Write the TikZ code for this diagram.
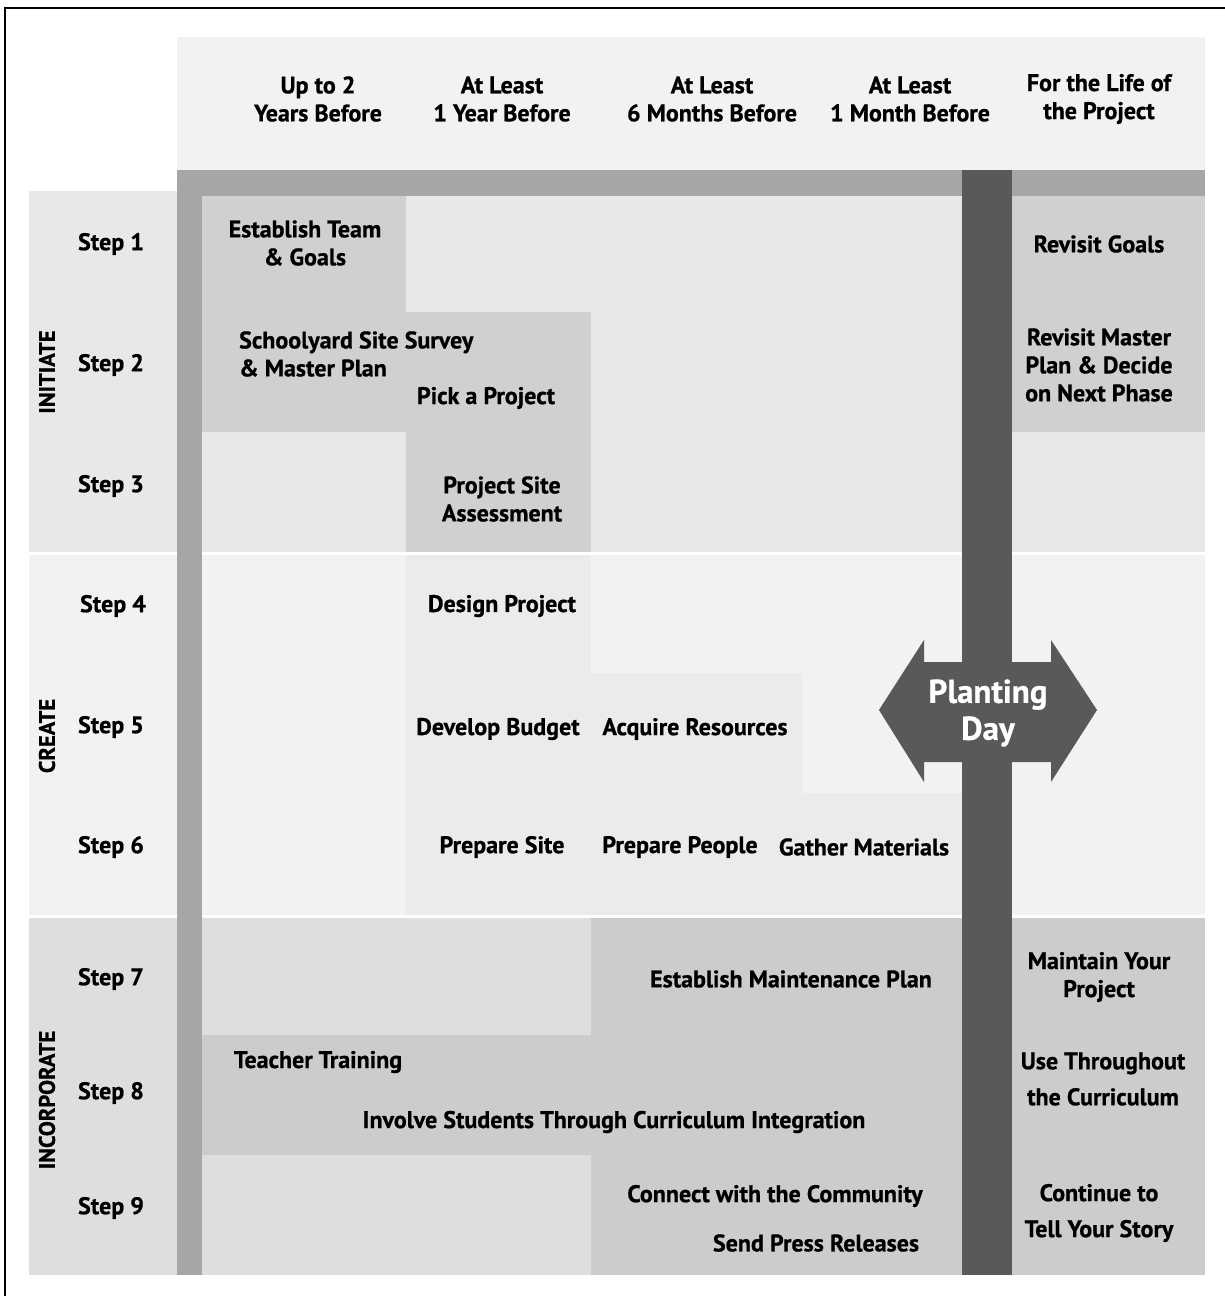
\documentclass[tikz,border=0pt]{standalone}
\usepackage{fontspec}
\setmainfont{PT Sans}[BoldFeatures={FakeBold=0.7}]
\definecolor{hdr}{HTML}{F2F2F2}
\definecolor{iniBg}{HTML}{E8E8E8}
\definecolor{iniBox}{HTML}{D0D0D0}
\definecolor{creBg}{HTML}{F2F2F2}
\definecolor{creBox}{HTML}{EBEBEB}
\definecolor{incBg}{HTML}{DEDEDE}
\definecolor{incBox}{HTML}{CCCCCC}
\definecolor{barGray}{HTML}{A6A6A6}
\definecolor{barDark}{HTML}{595959}
\tikzset{
  lbl/.style={font=\fontsize{24}{28}\selectfont\bfseries, align=center, inner sep=0pt, text=black},
  lbll/.style={lbl, align=left},
  vlbl/.style={font=\fontsize{22.5}{26}\selectfont\bfseries, rotate=90, inner sep=0pt},
  steplbl/.style={lbl},
  widelbl/.style={lbl, font=\fontsize{24}{36}\selectfont\bfseries},
}
\begin{document}
\begin{tikzpicture}[x=1pt,y=-1pt]
\useasboundingbox (0,0) rectangle (1225,1296);
\begin{scope}
\clip (0,0) rectangle (1225,1296);
\fill[white] (0,0) rectangle (1225,1296);
\draw[line width=2pt] (5,1300) -- (5,8) -- (1240,8);
% header
\fill[hdr] (177,37) rectangle (1205,170);
% sections
\fill[iniBg] (29,191) rectangle (1205,552);
\fill[creBg] (29,555) rectangle (1205,915);
\fill[incBg] (29,918) rectangle (1205,1275);
% initiate boxes
\fill[iniBox] (202,196) rectangle (406,312);
\fill[iniBox] (202,312) rectangle (591,432);
\fill[iniBox] (406,432) rectangle (591,552);
\fill[iniBox] (1012,196) rectangle (1205,432);
% create boxes
\fill[creBox] (406,555) rectangle (591,915);
\fill[creBox] (591,673) rectangle (802,915);
\fill[creBox] (802,793) rectangle (962,915);
% incorporate boxes
\fill[incBox] (591,918) rectangle (962,1035);
\fill[incBox] (202,1035) rectangle (962,1155);
\fill[incBox] (591,1155) rectangle (962,1275);
\fill[incBox] (1012,918) rectangle (1205,1275);
% bars
\fill[barGray] (177,170) rectangle (1205,196);
\fill[barGray] (177,170) rectangle (202,1275);
\fill[barDark] (962,170) rectangle (1012,1275);
% planting day arrow
\fill[barDark] (879,710) -- (924,640) -- (924,662) -- (1051,662) -- (1051,640)
  -- (1097,710) -- (1051,782) -- (1051,762) -- (924,762) -- (924,782) -- cycle;
\end{scope}
\node[font=\fontsize{33}{37}\selectfont\bfseries, text=white, align=center, inner sep=0pt] (pday) at (988,713) {Planting\\Day};
% header labels
\node[lbl] (h1) at (318,99) {Up to 2\\Years Before};
\node[lbl] (h2) at (502,99) {At Least\\1 Year Before};
\node[lbl] (h3) at (712,99) {At Least\\6 Months Before};
\node[lbl] (h4) at (910,99) {At Least\\1 Month Before};
\node[lbl] (h5) at (1099,99) {For the Life of\\the Project};
% group labels
\node[vlbl] (g1) at (47,372) {INITIATE};
\node[vlbl] (g2) at (47,736) {CREATE};
\node[vlbl] (g3) at (47,1100) {INCORPORATE};
% steps
\node[steplbl] (s1) at (111,244) {Step 1};
\node[steplbl] (s2) at (111,365) {Step 2};
\node[steplbl] (s3) at (111,486) {Step 3};
\node[steplbl] (s4) at (113,606) {Step 4};
\node[steplbl] (s5) at (111,727) {Step 5};
\node[steplbl] (s6) at (111,847) {Step 6};
\node[steplbl] (s7) at (111,979) {Step 7};
\node[steplbl] (s8) at (111,1093) {Step 8};
\node[steplbl] (s9) at (111,1208) {Step 9};
% initiate texts
\node[lbl] (t1) at (305,243) {Establish Team\\\& Goals};
\node[lbll, anchor=west] (t2) at (239,354) {Schoolyard Site Survey\\\& Master Plan};
\node[lbl] (t3) at (486,398) {Pick a Project};
\node[lbl] (t4) at (502,499) {Project Site\\Assessment};
\node[lbl] (r1) at (1099,244) {Revisit Goals};
\node[lbl] (r2) at (1099,365) {Revisit Master\\Plan \& Decide\\on Next Phase};
% create texts
\node[lbl] (c1) at (502,606) {Design Project};
\node[lbl] (c2) at (498,729) {Develop Budget};
\node[lbl] (c3) at (695,729) {Acquire Resources};
\node[lbl] (c4) at (502,847) {Prepare Site};
\node[lbl] (c5) at (680,847) {Prepare People};
\node[lbl] (c6) at (864,847) {Gather Materials};
% incorporate texts
\node[lbl] (i1) at (791,979) {Establish Maintenance Plan};
\node[lbl] (i2) at (318,1062) {Teacher Training};
\node[lbl] (i3) at (614,1122) {Involve Students Through Curriculum Integration};
\node[lbl] (i4) at (775,1196) {Connect with the Community};
\node[lbl] (i5) at (816,1243) {Send Press Releases};
\node[lbl] (r3) at (1099,977) {Maintain Your\\Project};
\node[widelbl] (r4) at (1103,1079) {Use Throughout\\the Curriculum};
\node[widelbl] (r5) at (1099,1213) {Continue to\\Tell Your Story};
\end{tikzpicture}
\end{document}
